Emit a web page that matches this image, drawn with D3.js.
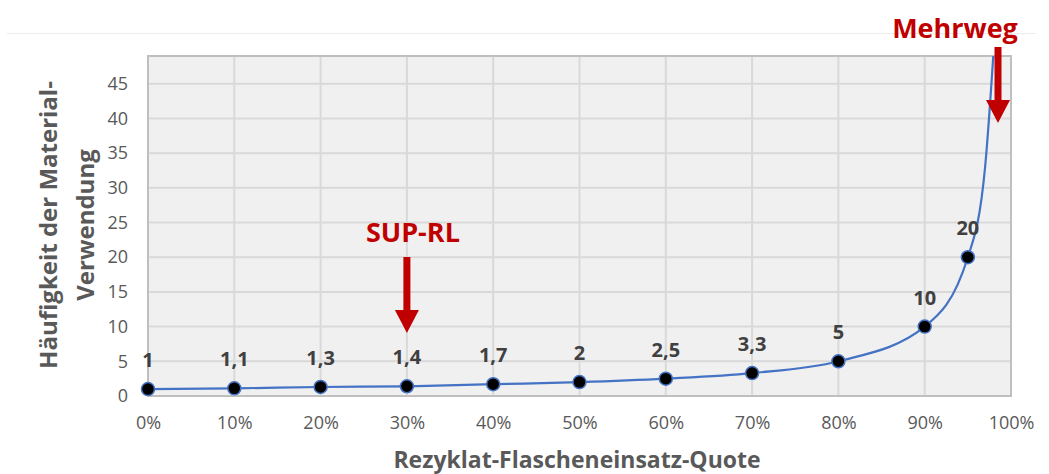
<!DOCTYPE html>
<html lang="de">
<head>
<meta charset="UTF-8">
<title>Rezyklat-Flascheneinsatz-Quote</title>
<script src="https://cdn.jsdelivr.net/npm/d3@7"></script>
<style>
  body { margin: 0; background: #fff; }
  text { font-family: "Open Sans", sans-serif; }
</style>
</head>
<body>
<script>
// Datenpunkte (Quote in %, Häufigkeit)
var quote = [0, 10, 20, 30, 40, 50, 60, 70, 80, 90, 95];
var haeufigkeit = [1, 1.1, 1.3, 1.4, 1.7, 2, 2.5, 3.3, 5, 10, 20];
var labels = ["1", "1,1", "1,3", "1,4", "1,7", "2", "2,5", "3,3", "5", "10", "20"];
// Verlauf der Kurve oberhalb von 95 %
var kurveQuote = [97, 98];
var kurveWert = [33, 50];
var xTicks = [0, 10, 20, 30, 40, 50, 60, 70, 80, 90, 100];
var yTicks = [0, 5, 10, 15, 20, 25, 30, 35, 40, 45];

var W = 1049, H = 474;
var mLeft = 148, mRight = 1011, mTop = 56, mBottom = 396;

var svg = d3.select("body").append("svg")
    .attr("width", W)
    .attr("height", H);

var x = d3.scaleLinear().domain([0, 100]).range([mLeft, mRight]);
var y = d3.scaleLinear().domain([0, 49]).range([mBottom, mTop]);

// dünne Linie oben
svg.append("line")
    .attr("x1", 7).attr("x2", 1036)
    .attr("y1", 33.5).attr("y2", 33.5)
    .attr("stroke", "#ececec").attr("stroke-width", 1);

// Plotfläche
svg.append("rect")
    .attr("x", mLeft).attr("y", mTop)
    .attr("width", mRight - mLeft).attr("height", mBottom - mTop)
    .attr("fill", "#f0f0f0");

// Gitter
svg.append("g").selectAll("line")
    .data(yTicks.slice(1))
    .enter().append("line")
    .attr("x1", mLeft).attr("x2", mRight)
    .attr("y1", function (d) { return y(d); })
    .attr("y2", function (d) { return y(d); })
    .attr("stroke", "#d9d9d9").attr("stroke-width", 2);

svg.append("g").selectAll("line")
    .data(xTicks.slice(1, -1))
    .enter().append("line")
    .attr("x1", function (d) { return x(d); })
    .attr("x2", function (d) { return x(d); })
    .attr("y1", mTop).attr("y2", mBottom)
    .attr("stroke", "#d9d9d9").attr("stroke-width", 2);

svg.append("rect")
    .attr("x", mLeft).attr("y", mTop)
    .attr("width", mRight - mLeft).attr("height", mBottom - mTop)
    .attr("fill", "none").attr("stroke", "#bfbfbf").attr("stroke-width", 2);

// Achsen
var xAxis = svg.append("g")
    .attr("transform", "translate(0," + mBottom + ")")
    .call(d3.axisBottom(x).tickValues(xTicks).tickSize(0).tickPadding(20)
        .tickFormat(function (d) { return d + "%"; }));
var yAxis = svg.append("g")
    .attr("transform", "translate(" + mLeft + ",0)")
    .call(d3.axisLeft(y).tickValues(yTicks).tickSize(0).tickPadding(20));
[xAxis, yAxis].forEach(function (a) {
    a.select(".domain").remove();
    a.selectAll("text")
        .attr("font-family", "Open Sans, sans-serif")
        .attr("font-size", "18px")
        .attr("fill", "#595959");
});

// Kurve
var kurve = quote.map(function (q, i) { return [q, haeufigkeit[i]]; })
    .concat(kurveQuote.map(function (q, i) { return [q, kurveWert[i]]; }));

svg.append("clipPath").attr("id", "clip")
    .append("rect")
    .attr("x", mLeft).attr("y", mTop)
    .attr("width", mRight - mLeft).attr("height", mBottom - mTop);

var line = d3.line()
    .x(function (d) { return x(d[0]); })
    .y(function (d) { return y(d[1]); })
    .curve(d3.curveMonotoneX);

svg.append("path")
    .datum(kurve)
    .attr("clip-path", "url(#clip)")
    .attr("d", line)
    .attr("fill", "none")
    .attr("stroke", "#4472c4")
    .attr("stroke-width", 2.2);

// Punkte
svg.append("g").selectAll("circle")
    .data(quote)
    .enter().append("circle")
    .attr("cx", function (d) { return x(d); })
    .attr("cy", function (d, i) { return y(haeufigkeit[i]); })
    .attr("r", 6.5)
    .attr("fill", "#000")
    .attr("stroke", "#4472c4")
    .attr("stroke-width", 1.5);

// Datenbeschriftungen
svg.append("g").selectAll("text")
    .data(quote)
    .enter().append("text")
    .attr("x", function (d) { return x(d); })
    .attr("y", function (d, i) { return y(haeufigkeit[i]) - 22; })
    .attr("text-anchor", "middle")
    .attr("font-size", "20px")
    .attr("font-weight", "bold")
    .attr("fill", "#404040")
    .text(function (d, i) { return labels[i]; });

// Achsentitel
svg.append("text")
    .attr("x", 577).attr("y", 468)
    .attr("text-anchor", "middle")
    .attr("font-size", "23px")
    .attr("font-weight", "bold")
    .attr("fill", "#595959")
    .text("Rezyklat-Flascheneinsatz-Quote");

var yt = svg.append("text")
    .attr("transform", "translate(0,225) rotate(-90)")
    .attr("text-anchor", "middle")
    .attr("font-size", "24px")
    .attr("font-weight", "bold")
    .attr("fill", "#595959");
yt.append("tspan").attr("x", 0).attr("y", 57).text("Häufigkeit der Material-");
yt.append("tspan").attr("x", 0).attr("y", 94).text("Verwendung");

// Pfeile
function pfeil(px, y0, yHead, yTip, text, tx, ty) {
    svg.append("rect")
        .attr("x", px - 3.5).attr("y", y0)
        .attr("width", 7).attr("height", yHead - y0 + 1)
        .attr("fill", "#c00000");
    svg.append("path")
        .attr("d", "M" + (px - 12) + "," + yHead + "L" + (px + 12) + "," + yHead + "L" + px + "," + yTip + "Z")
        .attr("fill", "#c00000");
    svg.append("text")
        .attr("x", tx).attr("y", ty)
        .attr("text-anchor", "middle")
        .attr("font-size", "27px")
        .attr("font-weight", "bold")
        .attr("fill", "#c00000")
        .text(text);
}
pfeil(x(30), 257, 310, 333, "SUP-RL", x(30) + 6, 242);
pfeil(998, 47, 100, 123, "Mehrweg", 955, 38);
</script>
</body>
</html>
